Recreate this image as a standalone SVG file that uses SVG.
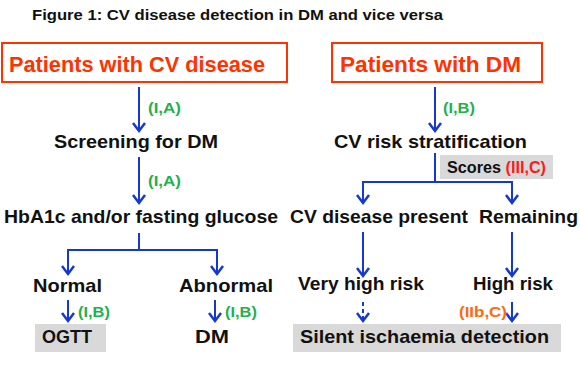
<svg xmlns="http://www.w3.org/2000/svg" xmlns:xlink="http://www.w3.org/1999/xlink" width="580" height="367" viewBox="0 0 580 367">
<defs>
<path id="hd" d="M-6,-8 L0,0 L6,-8" fill="none" stroke="#1438D0" stroke-width="2.5" stroke-linejoin="miter"/>
<style>
text{font-family:"Liberation Sans",Arial,sans-serif;font-weight:bold;}
.t{font-size:14px;fill:#111;}
.big{font-size:22px;fill:#FF3300;}
.n{font-size:19px;fill:#111;}
.g{font-size:15px;fill:#22B04B;}
.o{font-size:15px;fill:#FF6A10;}
.r{fill:#FF1A1A;}
.box{fill:#fff;stroke:#FF3300;stroke-width:2;}
.gray{fill:#D9D9D9;}
.c{fill:none;stroke:#1438D0;stroke-width:2;}
</style>
</defs>
<text class="t" x="32" y="20" textLength="411" lengthAdjust="spacingAndGlyphs">Figure 1: CV disease detection in DM and vice versa</text>

<g id="patients-cv"><rect class="box" x="2" y="43" width="285" height="39"/><text class="big" x="9" y="72" textLength="256" lengthAdjust="spacingAndGlyphs">Patients with CV disease</text></g>
<g id="patients-dm"><rect class="box" x="332" y="43" width="210" height="39"/><text class="big" x="340" y="72" textLength="181" lengthAdjust="spacingAndGlyphs">Patients with DM</text></g>
<g id="screening"><text class="n" x="54" y="148" textLength="164" lengthAdjust="spacingAndGlyphs">Screening for DM</text></g>
<g id="hba1c"><text class="n" x="4" y="223" textLength="274" lengthAdjust="spacingAndGlyphs">HbA1c and/or fasting glucose</text></g>
<g id="normal"><text class="n" x="33" y="292" textLength="69" lengthAdjust="spacingAndGlyphs">Normal</text></g>
<g id="abnormal"><text class="n" x="179" y="292" textLength="94" lengthAdjust="spacingAndGlyphs">Abnormal</text></g>
<g id="ogtt"><rect class="gray" x="35" y="324" width="71" height="28"/><text class="n" x="42" y="343" textLength="50" lengthAdjust="spacingAndGlyphs">OGTT</text></g>
<g id="dm"><text class="n" x="195" y="343" textLength="34" lengthAdjust="spacingAndGlyphs">DM</text></g>
<g id="cv-risk"><text class="n" x="334" y="148" textLength="193" lengthAdjust="spacingAndGlyphs">CV risk stratification</text></g>
<g id="scores"><rect class="gray" x="440" y="155" width="113" height="24"/><text class="t" x="447" y="173" style="font-size:16px" textLength="99" lengthAdjust="spacingAndGlyphs">Scores <tspan class="r">(III,C)</tspan></text></g>
<g id="cv-present"><text class="n" x="290" y="223" textLength="178" lengthAdjust="spacingAndGlyphs">CV disease present</text></g>
<g id="remaining"><text class="n" x="479" y="223" textLength="99" lengthAdjust="spacingAndGlyphs">Remaining</text></g>
<g id="very-high"><text class="n" x="298" y="290" textLength="126" lengthAdjust="spacingAndGlyphs">Very high risk</text></g>
<g id="high"><text class="n" x="473" y="290" textLength="80" lengthAdjust="spacingAndGlyphs">High risk</text></g>
<g id="silent"><rect class="gray" x="293" y="324" width="268" height="28"/><text class="n" x="300" y="343" textLength="249" lengthAdjust="spacingAndGlyphs">Silent ischaemia detection</text></g>

<g id="connectors">
<line class="c" x1="139" y1="87" x2="139" y2="130"/><use href="#hd" xlink:href="#hd" x="139" y="131"/>
<text class="g" x="148" y="113" textLength="33" lengthAdjust="spacingAndGlyphs">(I,A)</text>
<line class="c" x1="139" y1="157" x2="139" y2="202"/><use href="#hd" xlink:href="#hd" x="139" y="203"/>
<text class="g" x="148" y="186" textLength="33" lengthAdjust="spacingAndGlyphs">(I,A)</text>
<path class="c" d="M139,233 V250 M67,250 H218"/>
<line class="c" x1="68" y1="249" x2="68" y2="273"/><use href="#hd" xlink:href="#hd" x="68" y="274"/>
<line class="c" x1="217" y1="249" x2="217" y2="273"/><use href="#hd" xlink:href="#hd" x="217" y="274"/>
<line class="c" x1="68" y1="300" x2="68" y2="320"/><use href="#hd" xlink:href="#hd" x="68" y="321"/>
<text class="g" x="78" y="317" textLength="32" lengthAdjust="spacingAndGlyphs">(I,B)</text>
<line class="c" x1="215" y1="300" x2="215" y2="320"/><use href="#hd" xlink:href="#hd" x="215" y="321"/>
<text class="g" x="225" y="317" textLength="32" lengthAdjust="spacingAndGlyphs">(I,B)</text>

<line class="c" x1="435" y1="87" x2="435" y2="130"/><use href="#hd" xlink:href="#hd" x="435" y="131"/>
<text class="g" x="443" y="113" textLength="32" lengthAdjust="spacingAndGlyphs">(I,B)</text>
<path class="c" d="M435,153 V182 M362,182 H513"/>
<line class="c" x1="363" y1="181" x2="363" y2="202"/><use href="#hd" xlink:href="#hd" x="363" y="203"/>
<line class="c" x1="512" y1="181" x2="512" y2="202"/><use href="#hd" xlink:href="#hd" x="512" y="203"/>
<line class="c" x1="363" y1="232" x2="363" y2="275"/><use href="#hd" xlink:href="#hd" x="363" y="276"/>
<line class="c" x1="512" y1="232" x2="512" y2="275"/><use href="#hd" xlink:href="#hd" x="512" y="276"/>
<line class="c" x1="363" y1="302" x2="363" y2="320" stroke-dasharray="4,3"/><use href="#hd" xlink:href="#hd" x="363" y="321"/>
<line class="c" x1="512" y1="302" x2="512" y2="320"/><use href="#hd" xlink:href="#hd" x="512" y="321"/>
<text class="o" x="459" y="317" textLength="48" lengthAdjust="spacingAndGlyphs">(IIb,C)</text>
</g>
</svg>
